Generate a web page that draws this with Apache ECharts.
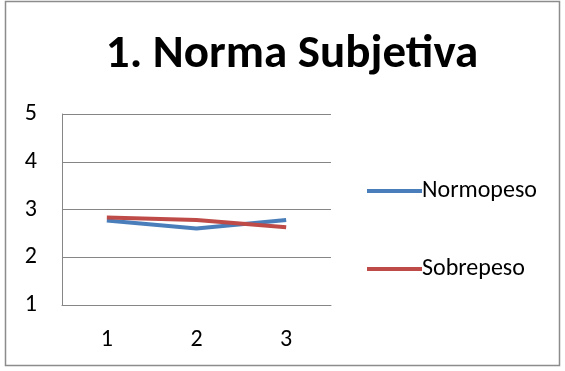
<!DOCTYPE html>
<html>
<head>
<meta charset="utf-8">
<script src="https://cdn.jsdelivr.net/npm/echarts@6/dist/echarts.min.js"></script>
<style>
  html, body { margin: 0; padding: 0; background: #fff; }
  #chart { width: 565px; height: 371px; }
</style>
</head>
<body>
<div id="chart"></div>
<script>
// Category labels along the x axis
const categories = ['1', '2', '3'];
// Mean scores per group
const normopeso = [2.77, 2.60, 2.78];
const sobrepeso = [2.83, 2.78, 2.63];
// Y axis range
const yMin = 1;
const yMax = 5;

const chart = echarts.init(document.getElementById('chart'), null, { renderer: 'canvas' });
const font = 'Calibri, Carlito, "Open Sans", "Liberation Sans", sans-serif';

chart.setOption({
  animation: false,
  backgroundColor: '#fff',
  title: {
    text: '1. Norma Subjetiva',
    left: 287,
    top: 27,
    textAlign: 'center',
    textStyle: { fontFamily: font, fontWeight: 'bold', fontSize: 47, color: '#000' }
  },
  graphic: [{
    type: 'rect',
    shape: { x: 5.5, y: 1.5, width: 554, height: 364 },
    style: { fill: 'none', stroke: '#8c8c8c', lineWidth: 1.5 },
    silent: true
  }],
  legend: {
    orient: 'vertical',
    left: 362,
    top: 174,
    itemGap: 54,
    itemWidth: 55,
    itemHeight: 4,
    icon: 'rect',
    textStyle: { fontFamily: font, fontSize: 24, lineHeight: 24, color: '#000', padding: [0, 0, 0, -5] },
    data: ['Normopeso', 'Sobrepeso']
  },
  grid: { left: 62, top: 114, width: 269, height: 191, containLabel: false },
  xAxis: {
    type: 'category',
    data: categories,
    boundaryGap: true,
    axisLine: { show: true, lineStyle: { color: '#868686', width: 1 } },
    axisTick: { show: false },
    axisLabel: { fontFamily: font, fontSize: 24, color: '#000', margin: 23 }
  },
  yAxis: {
    type: 'value',
    min: yMin,
    max: yMax,
    interval: 1,
    axisLine: { show: true, lineStyle: { color: '#868686', width: 1 } },
    axisTick: { show: false },
    splitLine: { show: true, lineStyle: { color: '#868686', width: 1 } },
    axisLabel: { fontFamily: font, fontSize: 24, color: '#000', margin: 25 }
  },
  series: [
    {
      name: 'Normopeso',
      type: 'line',
      data: normopeso,
      symbol: 'none',
      lineStyle: { color: '#4A7EBB', width: 4 },
      itemStyle: { color: '#4A7EBB' }
    },
    {
      name: 'Sobrepeso',
      type: 'line',
      data: sobrepeso,
      symbol: 'none',
      lineStyle: { color: '#BE4B48', width: 4 },
      itemStyle: { color: '#BE4B48' }
    }
  ]
});
</script>
</body>
</html>
